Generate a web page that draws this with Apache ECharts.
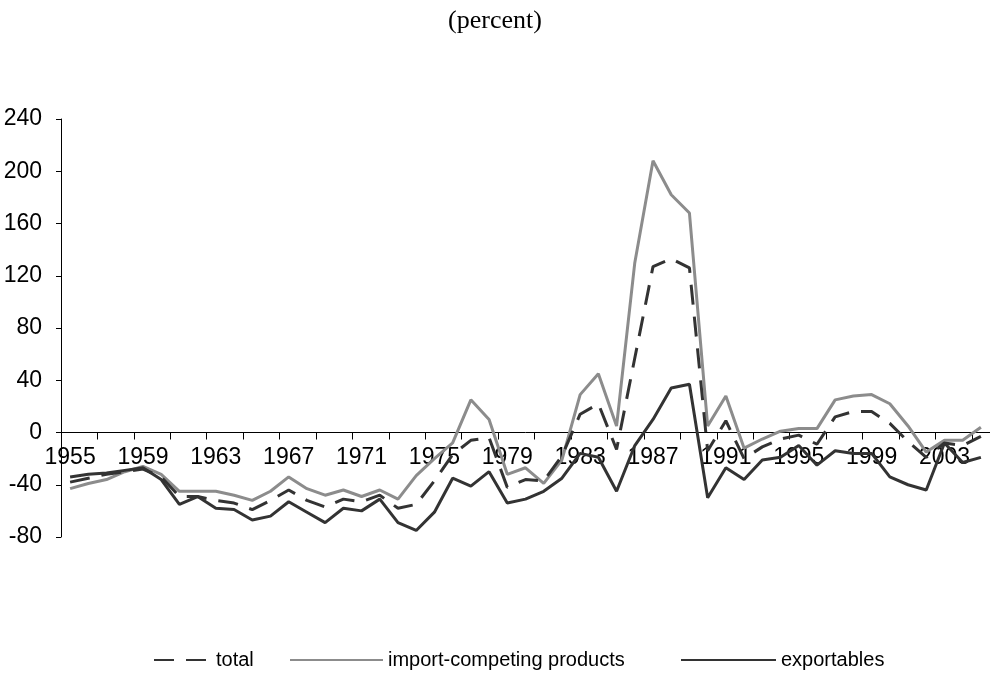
<!DOCTYPE html>
<html>
<head>
<meta charset="utf-8">
<script src="https://cdn.jsdelivr.net/npm/echarts@6/dist/echarts.min.js"></script>
<style>
html,body{margin:0;padding:0;background:#fff;}
#chart{width:990px;height:675px;}
</style>
</head>
<body>
<div id="chart"></div>
<script>
var years = [];
for (var y = 1955; y <= 2005; y++) years.push(String(y));

var total = [-38,-35,-32,-30,-28,-34,-49,-49,-52,-54,
             -59,-52,-44,-52,-57,-51,-53,-48,-58,-55,
             -37,-17,-6,-4,-42,-36,-37,-18,14,22,
             -13,57,127,133,126,-14,9,-20,-11,-5,
             -2,-9,12,16,16,7,-7,-19,-8,-10,-3];

var importCompeting = [-43,-39,-36,-30,-26,-32,-45,-45,-45,-48,
                       -52,-45,-34,-43,-48,-44,-49,-44,-51,-33,
                       -20,-8,25,10,-32,-27,-39,-21,29,45,
                       5,130,208,182,168,5,28,-12,-5,1,
                       3,3,25,28,29,22,5,-15,-6,-6,4];

var exportables = [-34,-32,-31,-29,-27,-36,-55,-49,-58,-59,
                   -67,-64,-53,-61,-69,-58,-60,-51,-69,-75,
                   -61,-35,-41,-30,-54,-51,-45,-35,-16,-19,
                   -45,-10,10,34,37,-50,-27,-36,-21,-19,
                   -10,-25,-14,-16,-16,-34,-40,-44,-8,-23,-19];

var yMin = -80, yMax = 240, yStep = 40;

var FONT = 'Liberation Sans, Arial, sans-serif';
var DARK = '#333333';
var GRAY = '#8c8c8c';

var GRID_TOP = 119, GRID_BOTTOM = 138, H = 675;
var plotH = H - GRID_TOP - GRID_BOTTOM;
var zeroOffset = -plotH * (0 - yMin) / (yMax - yMin);

var legendText = {fontFamily: FONT, fontSize: 20, color: '#000'};
var chart = echarts.init(document.getElementById('chart'), null, {renderer: 'canvas'});
chart.setOption({
  animation: false,
  backgroundColor: '#ffffff',
  title: {
    text: '(percent)',
    left: 'center',
    top: 3,
    textStyle: {fontFamily: 'Liberation Serif, Times New Roman, serif', fontSize: 26, fontWeight: 'normal', color: '#000'}
  },
  grid: {left: 61, right: -2, top: GRID_TOP, bottom: GRID_BOTTOM, containLabel: false},
  legend: [
    {data: ['total'], left: 148, top: 645, itemWidth: 57, itemHeight: 14, itemGap: 0,
     itemStyle: {opacity: 0}, textStyle: legendText},
    {data: ['import-competing products'], left: 284, top: 645, itemWidth: 93, itemHeight: 14, itemGap: 0,
     itemStyle: {opacity: 0}, textStyle: legendText},
    {data: ['exportables'], left: 675, top: 645, itemWidth: 95, itemHeight: 14, itemGap: 0,
     itemStyle: {opacity: 0}, textStyle: legendText}
  ],
  xAxis: {
    type: 'category',
    data: years,
    boundaryGap: true,
    offset: zeroOffset,
    axisLine: {onZero: false, lineStyle: {color: '#000', width: 1}},
    axisTick: {show: true, interval: 1, inside: false, length: 7, lineStyle: {color: '#000'}},
    axisLabel: {interval: 3, margin: 14, fontFamily: FONT, fontSize: 23, color: '#000'},
    splitLine: {show: false}
  },
  yAxis: {
    type: 'value',
    min: yMin, max: yMax, interval: yStep,
    axisLine: {show: true, onZero: false, lineStyle: {color: '#000', width: 1}},
    axisTick: {show: true, length: 5, lineStyle: {color: '#000'}},
    axisLabel: {margin: 19, fontFamily: FONT, fontSize: 23, color: '#000'},
    splitLine: {show: false}
  },
  series: [
    {name: 'total', type: 'line', data: total, symbol: 'none',
     lineStyle: {color: DARK, width: 3, type: [20, 12]}, itemStyle: {color: DARK}, z: 3},
    {name: 'import-competing products', type: 'line', data: importCompeting, symbol: 'none',
     lineStyle: {color: GRAY, width: 3}, itemStyle: {color: GRAY}, z: 2},
    {name: 'exportables', type: 'line', data: exportables, symbol: 'none',
     lineStyle: {color: DARK, width: 3}, itemStyle: {color: DARK}, z: 4}
  ]
});
</script>
</body>
</html>
